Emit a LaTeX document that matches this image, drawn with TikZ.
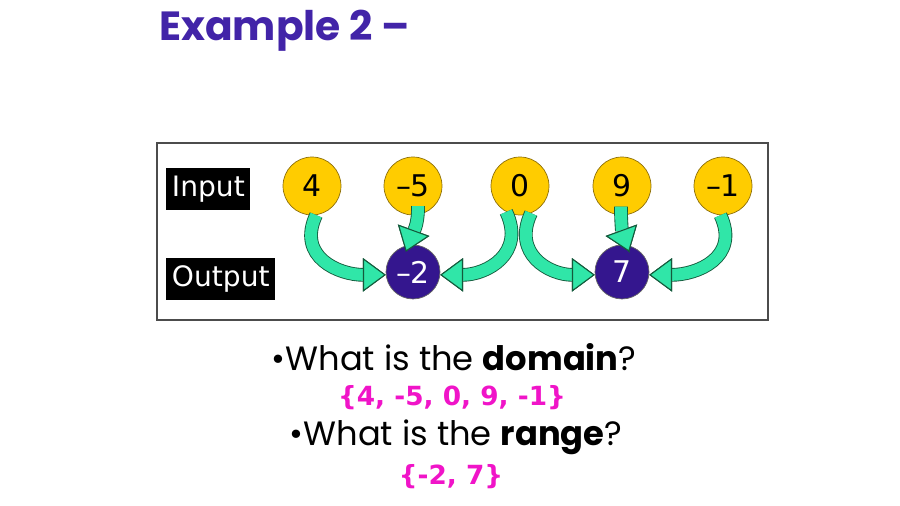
\documentclass[tikz,border=0pt]{standalone}
\usepackage{fontspec}
\setmainfont{Poppins}
\newfontfamily\numfont{DejaVu Sans}
\usetikzlibrary{arrows.meta}

\definecolor{titlepurple}{RGB}{66,36,168}
\definecolor{outpurple}{RGB}{52,22,142}
\definecolor{ingold}{RGB}{255,204,0}
\definecolor{goldedge}{RGB}{140,110,10}
\definecolor{mint}{RGB}{48,230,168}
\definecolor{ribbonedge}{RGB}{20,90,60}
\definecolor{answer}{RGB}{240,20,200}

\tikzset{
	innum/.style={draw=goldedge, fill=ingold, circle, minimum size=1.16cm, inner sep=0pt, font=\numfont\fontsize{17}{20}\selectfont},
	outnum/.style={draw=black!60, fill=outpurple, circle, minimum size=1.08cm, inner sep=0pt, text=white, font=\numfont\fontsize{17}{20}\selectfont},
	rowlabel/.style={fill=black, text=white, anchor=west, minimum height=0.84cm, inner xsep=3.2pt, font=\numfont\fontsize{16}{19}\selectfont},
	ribbon/.style={line width=6.8pt, draw=mint, preaction={draw=ribbonedge, line width=7.8pt}, -{Triangle[width=19pt,length=13pt,fill=mint,color=ribbonedge,line width=0.6pt]}},
	dropribbon/.style={ribbon, shorten <=-5pt, shorten >=-4pt},
	question/.style={font=\fontsize{19.2}{23}\selectfont},
	reply/.style={text=answer, font=\numfont\bfseries\fontsize{15}{18}\selectfont}
}

\begin{document}
\begin{tikzpicture}[x=0.02cm, y=-0.02cm]

		\useasboundingbox (0,0) rectangle (900,506);

		\node[anchor=west, text=titlepurple, font=\bfseries\fontsize{23.2}{27}\selectfont] (title) at (153,31) {Example 2 –};

		\draw[black!70, line width=0.6pt] (157,143) rectangle (768,320);

		\node[rowlabel] (inlabel) at (166,189) {Input};
		\node[rowlabel] (outlabel) at (166,279) {Output};

		\node[innum] (i1) at (312,186) {4};
		\node[innum] (i2) at (413,186) {–5};
		\node[innum] (i3) at (520,186) {0};
		\node[innum] (i4) at (622,186) {9};
		\node[innum] (i5) at (723,186) {–1};

		\node[outnum] (o1) at (413,272) {–2};
		\node[outnum] (o2) at (622,272) {7};

		\draw[ribbon] (i1.-82) to[out=245, in=180, looseness=1.3] (o1.186);
		\draw[dropribbon] (i2.-80) to[out=270, in=70] (o1.100);
		\draw[ribbon] (i3.-118) to[out=295, in=0, looseness=1.3] (o1.-6);

		\draw[ribbon] (i3.-68) to[out=245, in=180, looseness=1.3] (o2.186);
		\draw[dropribbon] (i4.-92) to[out=270, in=110] (o2.80);
		\draw[ribbon] (i5.-95) to[out=295, in=0, looseness=1.3] (o2.-6);

		\node[question] (q1) at (454,357) {•What is the \textbf{domain}?};
		\node[reply] (a1) at (452,398) {\{4, -5, 0, 9, -1\}};
		\node[question] (q2) at (456,437) {•What is the \textbf{range}?};
		\node[reply] (a2) at (451,477) {\{-2, 7\}};

	\end{tikzpicture}
\end{document}
